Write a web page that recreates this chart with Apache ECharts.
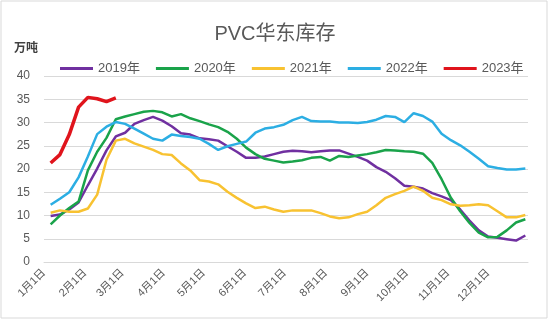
<!DOCTYPE html>
<html>
<head>
<meta charset="utf-8">
<script src="https://cdn.jsdelivr.net/npm/echarts@6/dist/echarts.min.js"></script>
<style>html,body{margin:0;padding:0;background:#fff;}#c{width:550px;height:321px;}</style>
</head>
<body>
<div id="c"></div>
<script>
// x positions: day of year (0 = 1月1日) of each weekly reading
const weekDays = [5,12,19,26,33,40,47,54,61,68,75,82,89,96,103,110,117,124,131,138,145,152,159,166,173,180,187,194,201,208,215,222,229,236,243,250,257,264,271,278,285,292,299,306,313,320,327,334,341,348,355,362];
const monthStarts = [0,31,59,90,120,151,181,212,243,273,304,334];
const monthLabels = ['1月1日','2月1日','3月1日','4月1日','5月1日','6月1日','7月1日','8月1日','9月1日','10月1日','11月1日','12月1日'];
const yTicks = [0,5,10,15,20,25,30,35,40];

const s2019 = [9.9,10.2,11.3,12.8,16.5,20.1,24.0,27.0,27.8,29.7,30.5,31.2,30.4,29.2,27.7,27.4,26.6,26.4,26.1,24.9,23.7,22.4,22.4,22.7,23.2,23.7,23.9,23.8,23.6,23.8,24.0,24.0,23.3,22.6,21.8,20.4,19.4,18.0,16.4,16.2,15.8,14.8,14.1,13.3,11.3,8.9,6.8,5.5,5.2,4.9,4.6,5.7];
const s2020 = [8.1,10.0,11.6,13.0,19.7,23.7,26.7,30.7,31.3,31.8,32.3,32.5,32.2,31.3,31.8,30.9,30.3,29.6,29.0,28.0,26.5,24.6,23.2,22.2,21.8,21.4,21.6,21.9,22.4,22.6,21.8,22.8,22.6,22.9,23.2,23.6,24.1,24.0,23.8,23.7,23.3,21.3,17.8,13.8,10.9,8.4,6.3,5.3,5.4,6.8,8.5,9.2];
const s2021 = [10.6,11.1,10.8,10.8,11.5,14.5,22.0,26.1,26.5,25.5,24.8,24.1,23.2,23.0,21.2,19.7,17.6,17.3,16.7,15.1,13.8,12.6,11.6,11.9,11.3,10.8,11.1,11.1,11.1,10.5,9.8,9.4,9.6,10.3,10.8,12.2,13.8,14.6,15.3,16.2,15.3,13.8,13.3,12.4,12.1,12.2,12.4,12.2,10.9,9.6,9.6,10.1];
const s2022 = [12.3,13.6,15.0,18.2,22.7,27.5,29.1,30.1,29.7,28.7,27.6,26.5,26.1,27.4,27.1,26.9,26.5,25.4,24.1,24.9,25.4,25.9,27.8,28.7,29.0,29.5,30.5,31.2,30.3,30.2,30.2,30.0,30.0,29.9,30.1,30.6,31.4,31.2,30.1,32.0,31.4,30.2,27.6,26.2,25.1,23.7,22.2,20.6,20.2,19.9,19.9,20.1];
const s2023 = [21.3,23.1,27.4,33.3,35.4,35.1,34.5,35.3];

const seriesNames = ['2019年','2020年','2021年','2022年','2023年'];
const seriesValues = [s2019,s2020,s2021,s2022,s2023];
const seriesColors = ['#7030A0','#1AA34A','#F8C231','#2CAEE3','#E0141C'];
const seriesWidths = [2.5,2.5,2.5,2.5,3.5];

const FONT = "'Liberation Sans','Noto Sans CJK SC',sans-serif";
const chart = echarts.init(document.getElementById('c'), null, {renderer:'canvas'});
chart.setOption({
  backgroundColor:'#fff',
  animation:false,
  textStyle:{fontFamily:FONT},
  title:{text:'PVC华东库存',left:'center',top:19,
    textStyle:{fontSize:20,fontWeight:'normal',color:'#595959',fontFamily:FONT}},
  legend:{left:55,top:57,itemWidth:33,itemHeight:3,itemGap:16,icon:'rect',
    textStyle:{fontSize:13,color:'#595959',fontFamily:FONT},
    data:seriesNames},
  graphic:[
    {type:'rect',shape:{x:1,y:1,width:546,height:317},style:{fill:'none',stroke:'#d9d9d9',lineWidth:1},silent:true},
    {type:'text',left:14,top:43,style:{text:'万吨',fontSize:12,fontWeight:'bold',fill:'#404040',fontFamily:FONT}}
  ],
  grid:{left:44,right:22,top:76,bottom:59},
  xAxis:{type:'value',min:0,max:364,
    axisLine:{show:true,lineStyle:{color:'#d9d9d9'}},
    axisTick:{show:false},
    splitLine:{show:false},
    axisLabel:{customValues:monthStarts,rotate:45,fontSize:11,color:'#595959',margin:9,
      formatter:function(v){const i=monthStarts.indexOf(v);return i>=0?monthLabels[i]:'';}}},
  yAxis:{type:'value',min:0,max:40,interval:5,
    axisLine:{show:false},axisTick:{show:false},
    splitLine:{lineStyle:{color:'#d9d9d9',width:1}},
    axisLabel:{fontSize:12,color:'#595959',margin:14}},
  series:seriesNames.map((n,k)=>({
    name:n,type:'line',showSymbol:false,symbol:'none',smooth:false,
    color:seriesColors[k],
    lineStyle:{width:seriesWidths[k],color:seriesColors[k]},
    z:k===4?5:2,
    data:seriesValues[k].map((v,i)=>[weekDays[i],v])
  }))
});
</script>
</body>
</html>
